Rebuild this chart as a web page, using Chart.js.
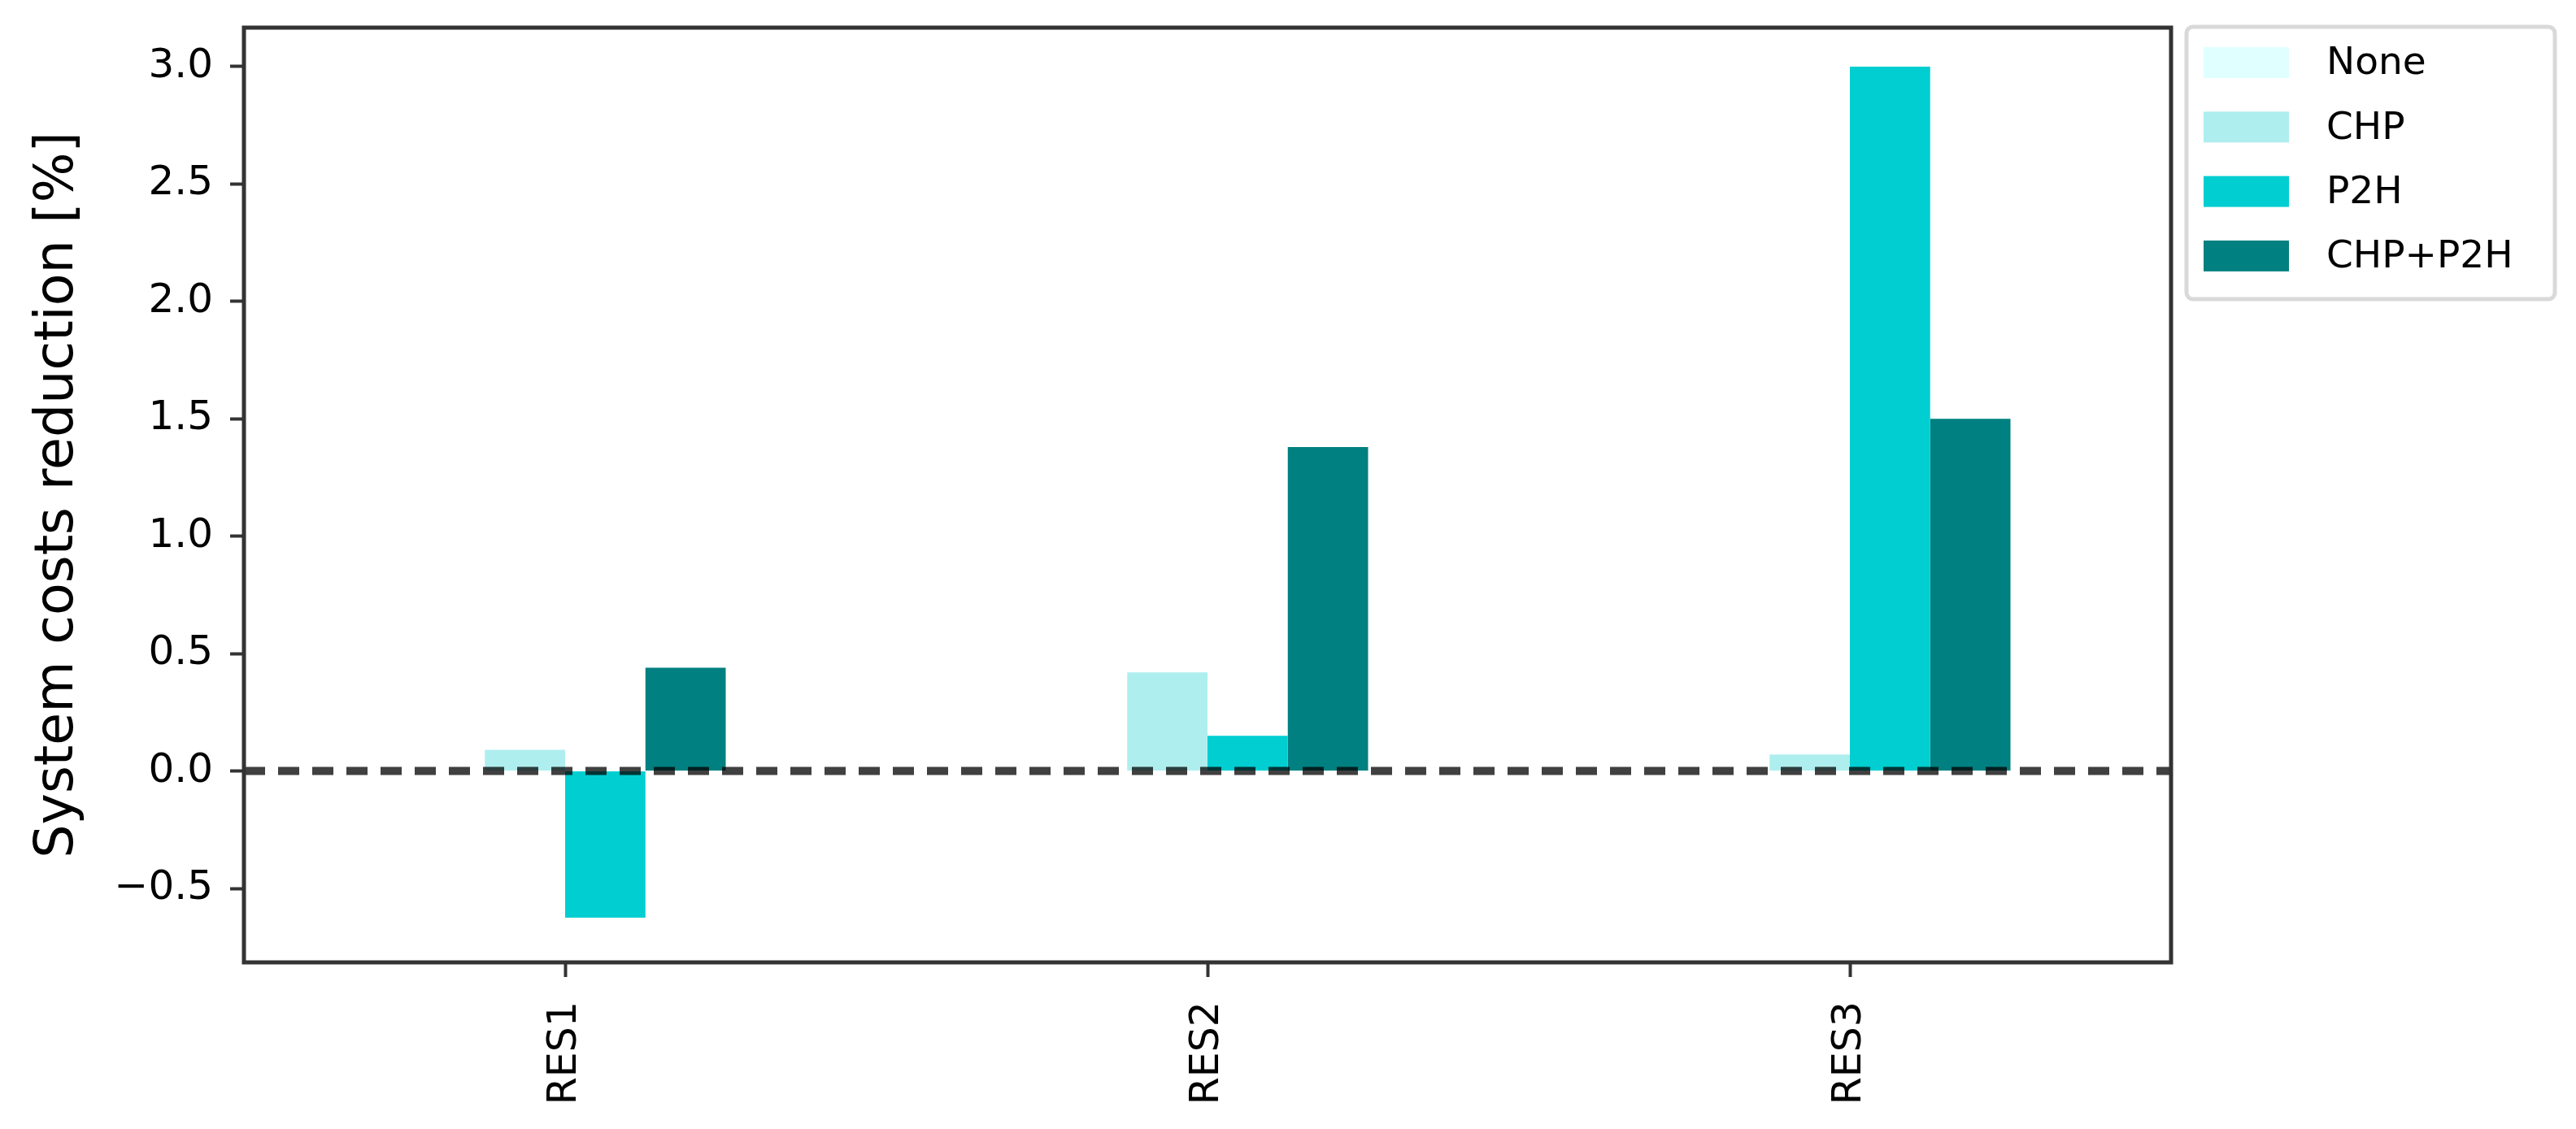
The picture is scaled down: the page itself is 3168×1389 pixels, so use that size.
<!DOCTYPE html>
<html>
<head>
<meta charset="utf-8">
<script src="https://cdn.jsdelivr.net/npm/chart.js@4/dist/chart.umd.min.js"></script>
<style>
    html, body { margin: 0; padding: 0; background: #ffffff; }
    canvas { display: block; }
</style>
</head>
<body>
<canvas id="chart" width="3168" height="1389"></canvas>
<script>
const scenarios = ["RES1", "RES2", "RES3"];
const seriesNames = ["None", "CHP", "P2H", "CHP+P2H"];
const seriesColors = ["#e0ffff", "#afeeee", "#00ced1", "#008080"];

// Cost reduction in percent per scenario
const noneValues = [0, 0, 0];
const chpValues = [0.09, 0.42, 0.07];
const p2hValues = [-0.625, 0.15, 3.0];
const chpP2hValues = [0.44, 1.38, 1.50];

const yTicks = [-0.5, 0.0, 0.5, 1.0, 1.5, 2.0, 2.5, 3.0];
const yMin = -0.815;
const yMax = 3.166;

const fontFamily = "'DejaVu Sans', sans-serif";
const axisColor = "#333333";

const seriesValues = [noneValues, chpValues, p2hValues, chpP2hValues];

const formatTick = value => (value < 0 ? "\u2212" : "") + Math.abs(value).toFixed(1);

// Dashed zero line, drawn over the bars like axhline
const zeroLine = {
    id: "zeroLine",
    afterDatasetsDraw: chart => {
        const { ctx, chartArea, scales } = chart;
        const y = scales.y.getPixelForValue(0);
        ctx.save();
        ctx.beginPath();
        ctx.rect(chartArea.left, chartArea.top, chartArea.right - chartArea.left, chartArea.bottom - chartArea.top);
        ctx.clip();
        ctx.strokeStyle = "rgba(0, 0, 0, 0.75)";
        ctx.lineWidth = 10;
        ctx.setLineDash([26, 16]);
        ctx.beginPath();
        ctx.moveTo(chartArea.left, y);
        ctx.lineTo(chartArea.right, y);
        ctx.stroke();
        ctx.restore();
    }
};

// Top and right spines, plus the boxed legend outside the axes
const frameAndLegend = {
    id: "frameAndLegend",
    afterDraw: chart => {
        const { ctx, chartArea } = chart;
        ctx.save();
        ctx.strokeStyle = axisColor;
        ctx.lineWidth = 5;
        ctx.strokeRect(chartArea.left, chartArea.top, chartArea.right - chartArea.left, chartArea.bottom - chartArea.top);

        const boxLeft = chartArea.right + 19;
        const boxTop = chartArea.top - 1;
        const boxWidth = 453;
        const boxHeight = 335;
        ctx.strokeStyle = "#d9d9d9";
        ctx.lineWidth = 5;
        ctx.beginPath();
        ctx.roundRect(boxLeft, boxTop, boxWidth, boxHeight, 8);
        ctx.stroke();

        ctx.font = "47px " + fontFamily;
        ctx.textBaseline = "middle";
        ctx.textAlign = "left";
        chart.data.datasets.forEach((dataset, i) => {
            const rowY = boxTop + 44 + i * 79.3;
            ctx.fillStyle = dataset.backgroundColor;
            ctx.fillRect(boxLeft + 21, rowY - 19, 105, 38);
            ctx.fillStyle = "#000000";
            ctx.fillText(dataset.label, boxLeft + 172, rowY + 2);
        });
        ctx.restore();
    }
};

const datasets = seriesNames.map((name, i) => ({
    label: name,
    data: seriesValues[i],
    backgroundColor: seriesColors[i],
    borderWidth: 0,
    categoryPercentage: 0.5,
    barPercentage: 1.0
}));

new Chart(document.getElementById("chart"), {
    type: "bar",
    data: { labels: scenarios, datasets: datasets },
    plugins: [zeroLine, frameAndLegend],
    options: {
        responsive: false,
        animation: false,
        events: [],
        layout: { autoPadding: false, padding: { top: 34, right: 498, bottom: 0, left: 0 } },
        plugins: {
            legend: { display: false },
            tooltip: { enabled: false }
        },
        scales: {
            x: {
                offset: true,
                afterFit: scale => {
                    scale.height = 205;
                    scale.paddingLeft = 0;
                    scale.paddingRight = 0;
                },
                border: { display: false },
                grid: { offset: false, drawOnChartArea: false, tickLength: 18, tickColor: axisColor, tickWidth: 4 },
                ticks: {
                    minRotation: 90,
                    maxRotation: 90,
                    padding: 30,
                    color: "#000000",
                    font: { family: fontFamily, size: 49 }
                }
            },
            y: {
                min: yMin,
                max: yMax,
                afterFit: scale => {
                    // keep the axes box where the reference has it
                    scale.width = 300;
                    scale.paddingTop = 0;
                    scale.paddingBottom = 0;
                },
                afterBuildTicks: axis => { axis.ticks = yTicks.map(value => ({ value })); },
                border: { display: false },
                grid: { drawOnChartArea: false, tickLength: 17, tickColor: axisColor, tickWidth: 4 },
                ticks: {
                    padding: 21,
                    color: "#000000",
                    font: { family: fontFamily, size: 50 },
                    callback: value => formatTick(value)
                },
                title: {
                    display: true,
                    text: "System costs reduction [%]",
                    color: "#000000",
                    font: { family: fontFamily, size: 65 },
                    padding: { top: 33, bottom: 0 }
                }
            }
        }
    }
});
</script>
</body>
</html>
